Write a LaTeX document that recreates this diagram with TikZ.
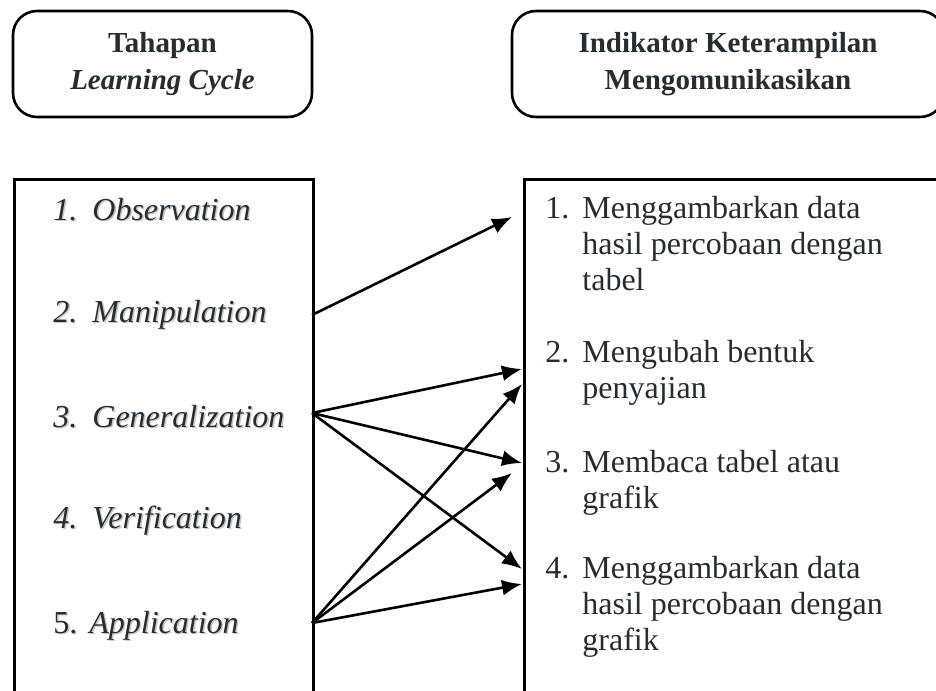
\documentclass[tikz,border=0pt]{standalone}
\usepackage{fontspec}
\setmainfont{Liberation Serif}
\usetikzlibrary{arrows.meta}
\definecolor{inkgray}{RGB}{38,44,48}

\tikzset{
  headbox/.style={draw,line width=1.3pt,rounded corners=12pt,align=center,
    text=inkgray,font=\fontsize{14.5pt}{18.5pt}\selectfont\bfseries},
  listbox/.style={draw,line width=1.3pt,anchor=north west,inner sep=0pt},
  item/.style={anchor=base west,inner sep=0pt,text=inkgray,
    font=\fontsize{16pt}{18pt}\selectfont},
  itemshadow/.style={item,text=black!22},
  link/.style={-{Latex[length=10pt,width=8pt]},line width=1.3pt}
}

\begin{document}
\begin{tikzpicture}[x=0.5pt,y=-0.5pt]
  \useasboundingbox (0,0) rectangle (936,690);
  \clip (0,0) rectangle (936,690);

  % headers
  \node[headbox,minimum width=149.5pt,minimum height=53pt] (stagehead) at (162.5,64)
    {Tahapan\\\textit{Learning Cycle}};
  \node[headbox,minimum width=216pt,minimum height=53pt] (indhead) at (728,64)
    {Indikator Keterampilan\\Mengomunikasikan};

  % lower boxes (open at the bottom)
  \node[listbox,minimum width=149.5pt,minimum height=270pt] (stages) at (13,178) {};
  \node[listbox,minimum width=220pt,minimum height=270pt] (inds) at (523,178) {};

  % stages of the learning cycle
  \foreach \i/\name/\y in {1/Observation/220,2/Manipulation/322,
      3/Generalization/427,4/Verification/528} {
    \node[itemshadow] at (54.5,\y+1.5) {\itshape\i.};
    \node[itemshadow] at (93.5,\y+1.5) {\itshape\name};
    \node[item] (num-\i) at (53,\y) {\itshape\i.};
    \node[item] (stage-\i) at (92,\y) {\itshape\name};
  }
  \node[itemshadow] at (54.5,634.5) {5.};
  \node[itemshadow] at (90.5,634.5) {\itshape Application};
  \node[item] (num-5) at (53,633) {5.};
  \node[item] (stage-5) at (89,633) {\itshape Application};

  % indicators
  \node[item] at (545,218) {1.};
  \node[item] (ind-1) at (582,218)
    {\begin{tabular}[t]{@{}l@{}}Menggambarkan data\\hasil percobaan dengan\\tabel\end{tabular}};
  \node[item] at (545,362) {2.};
  \node[item] (ind-2) at (582,362)
    {\begin{tabular}[t]{@{}l@{}}Mengubah bentuk\\penyajian\end{tabular}};
  \node[item] at (545,472) {3.};
  \node[item] (ind-3) at (582,472)
    {\begin{tabular}[t]{@{}l@{}}Membaca tabel atau\\grafik\end{tabular}};
  \node[item] at (545,578) {4.};
  \node[item] (ind-4) at (582,578)
    {\begin{tabular}[t]{@{}l@{}}Menggambarkan data\\hasil percobaan dengan\\grafik\end{tabular}};

  % arrow ends
  \coordinate (man-out) at (312,315);
  \coordinate (gen-out) at (312,413);
  \coordinate (app-out) at (312,623);
  \coordinate (in-1)  at (512,217);
  \coordinate (in-2a) at (522,369);
  \coordinate (in-2b) at (522,384);
  \coordinate (in-3a) at (522,463);
  \coordinate (in-3b) at (512,473);
  \coordinate (in-4a) at (522,569);
  \coordinate (in-4b) at (522,584);

  \foreach \a/\b in {man-out/in-1,gen-out/in-2a,gen-out/in-3a,gen-out/in-4a,
      app-out/in-2b,app-out/in-3b,app-out/in-4b}
    \draw[link] (\a) -- (\b);
\end{tikzpicture}
\end{document}
